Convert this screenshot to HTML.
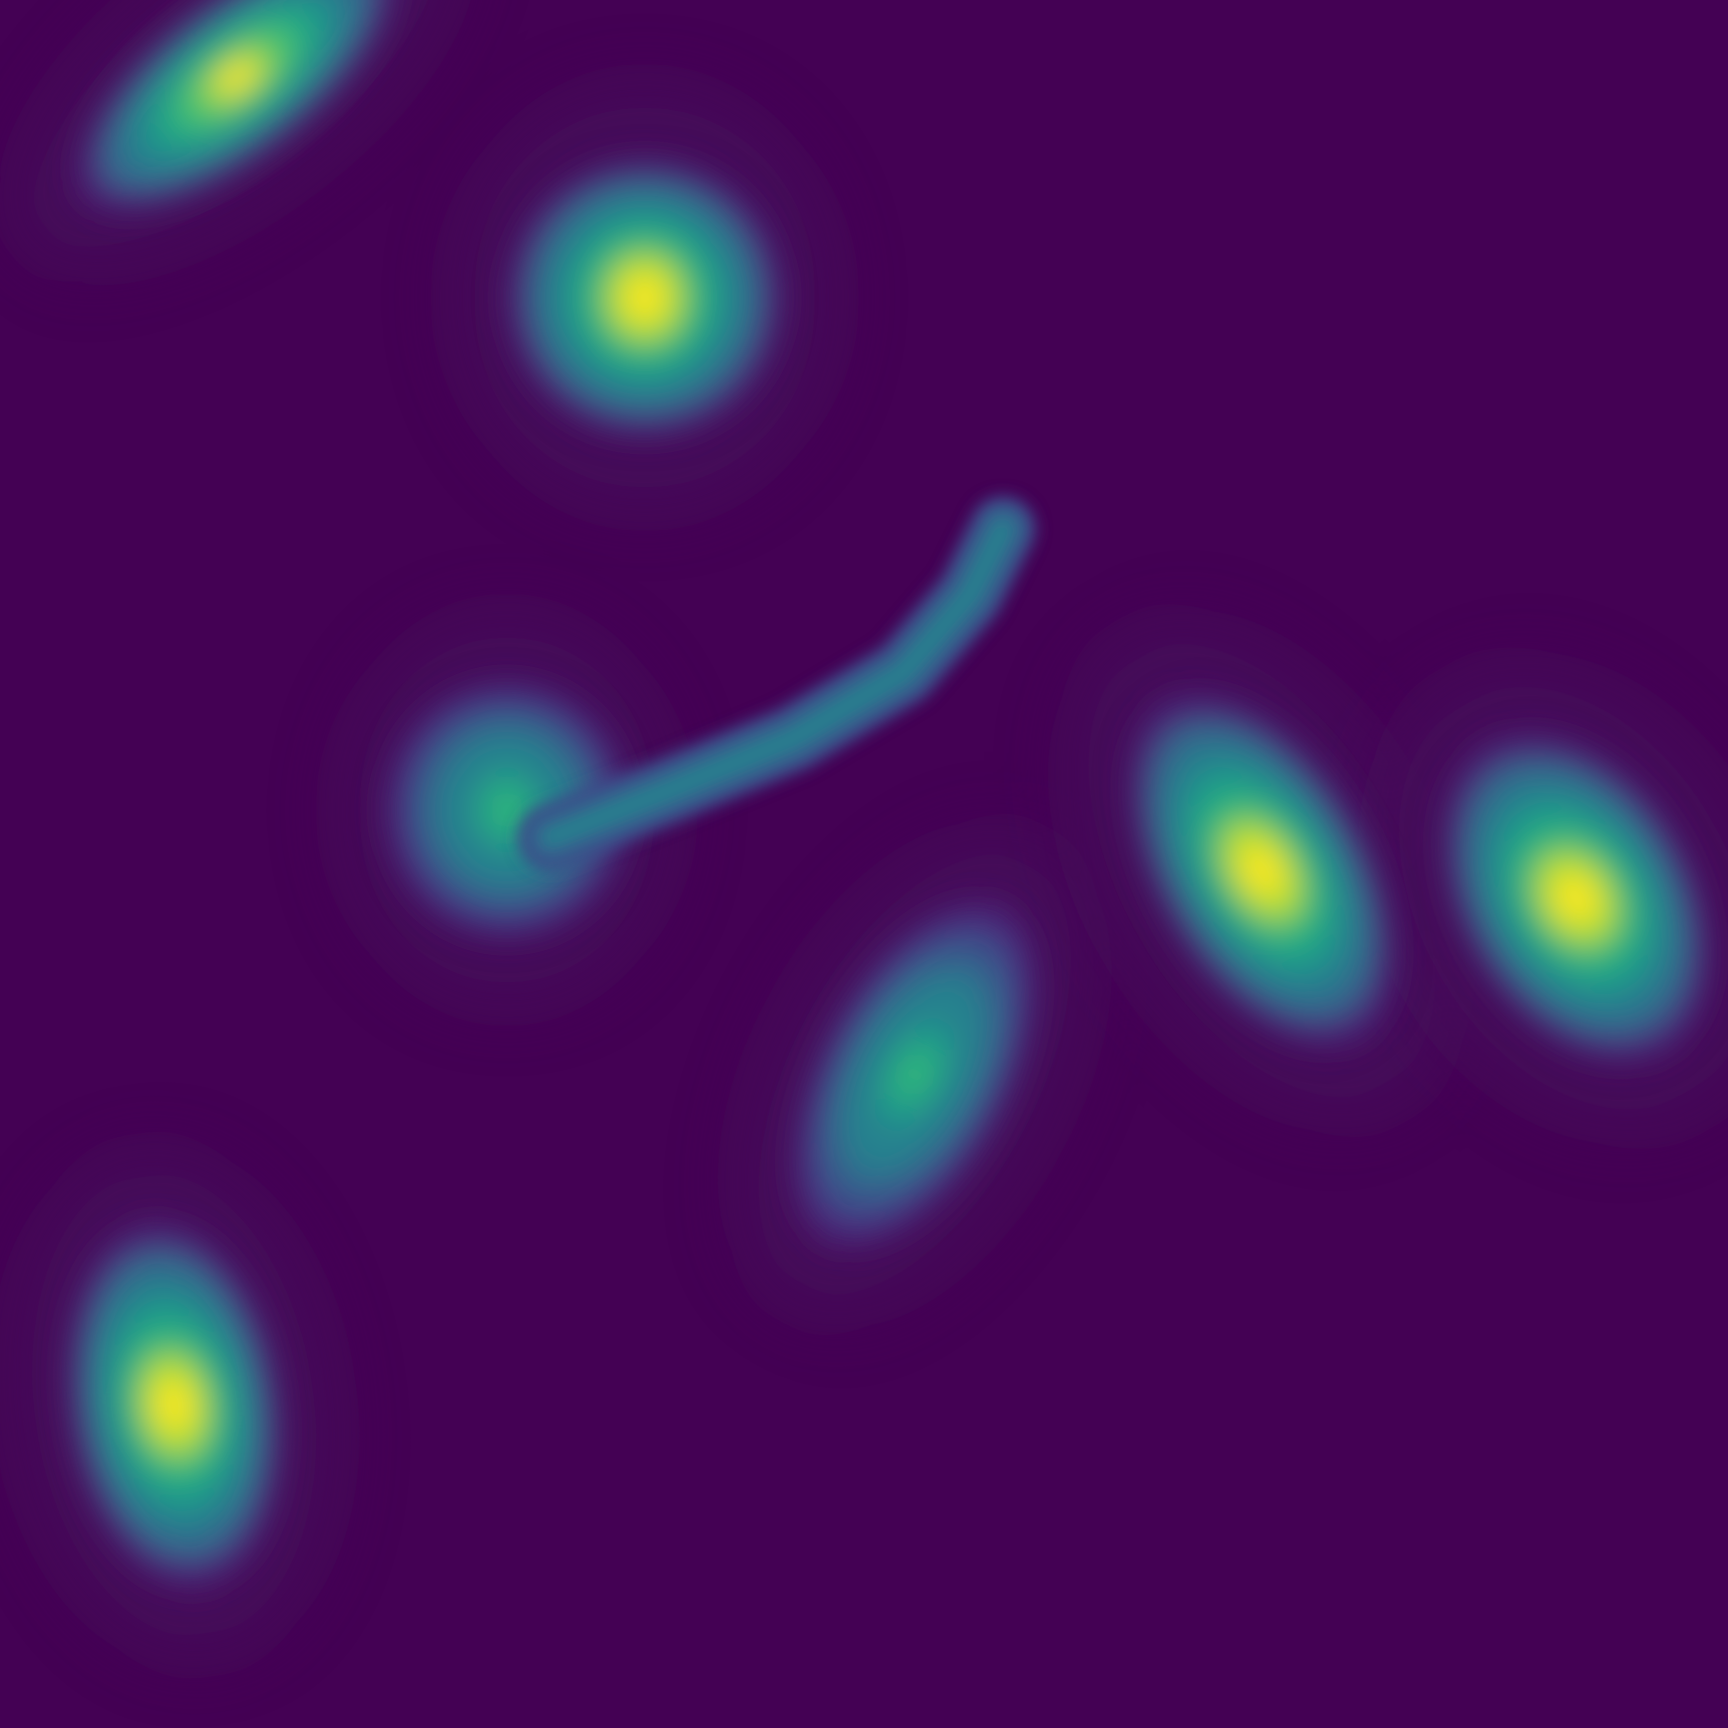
<!DOCTYPE html>
<html><head><meta charset="utf-8"><style>
html,body{margin:0;padding:0;background:#440154;}
svg{display:block}
</style></head><body>
<svg id="chart" width="1728" height="1728" viewBox="0 0 1568 1568" xmlns="http://www.w3.org/2000/svg">
<defs>
<filter id="blur" x="-50%" y="-50%" width="200%" height="200%"><feGaussianBlur stdDeviation="14"/></filter>
<filter id="blurS" x="-50%" y="-50%" width="200%" height="200%"><feGaussianBlur stdDeviation="7"/></filter>
<filter id="halo" x="-50%" y="-50%" width="200%" height="200%"><feGaussianBlur stdDeviation="30"/></filter>
</defs>
<rect width="1568" height="1568" fill="#440154"/>
<g id="halos" opacity="0.6"></g>
<g id="cells"></g>
</svg>
<script>
// cell data (viewBox coords)
const cellX = [215, 585, 460, 830, 1145, 1430, 158];
const cellY = [70, 270, 735, 975, 790, 815, 1275];
const cellRx = [175, 125, 110, 170, 175, 160, 165];
const cellRy = [70, 125, 115, 85, 95, 105, 95];
const cellAngle = [-38, 0, 0, -62, 60, 60, 82];
const cellPeak = [0.95, 1.0, 0.6, 0.6, 1.0, 1.0, 1.0];
const viridis = ['#440154','#482878','#3e4989','#31688e','#26828e','#1f9e89','#35b779','#6ece58','#b5de2b','#fde725'];
// tail of the middle cell
const tailX=[500,600,720,820,880,910];
const tailY=[760,720,670,610,540,480];
const NS='http://www.w3.org/2000/svg';
const halos=document.getElementById('halos');
const cells=document.getElementById('cells');
function col(v){return viridis[Math.max(0,Math.min(9,Math.round(v*9)))];}
for(let i=0;i<cellX.length;i++){
  const h=document.createElementNS(NS,'ellipse');
  
  
  h.setAttribute('cx',cellX[i]);h.setAttribute('cy',cellY[i]);
  h.setAttribute('rx',cellRx[i]*1.4);h.setAttribute('ry',cellRy[i]*1.55);
  h.setAttribute('transform',`rotate(${cellAngle[i]} ${cellX[i]} ${cellY[i]})`);
  h.setAttribute('fill','#47125f');h.setAttribute('filter','url(#halo)');
  halos.appendChild(h);
  const g=document.createElementNS(NS,'g');
  
  
  g.setAttribute('filter','url(#blur)');
  g.setAttribute('transform',`rotate(${cellAngle[i]} ${cellX[i]} ${cellY[i]})`);
  const steps=7;
  for(let s=0;s<steps;s++){
    const f=1-s/steps;
    const e=document.createElementNS(NS,'ellipse');
    
    
    e.setAttribute('cx',cellX[i]);e.setAttribute('cy',cellY[i]);
    e.setAttribute('rx',cellRx[i]*f);e.setAttribute('ry',cellRy[i]*Math.pow(f,0.9));
    e.setAttribute('fill',col(0.15+cellPeak[i]*0.85*(s/(steps-1))));
    g.appendChild(e);
  }
  cells.appendChild(g);
}
let d='M'+tailX[0]+' '+tailY[0];
for(let k=1;k<tailX.length;k++) d+=' L'+tailX[k]+' '+tailY[k];
const tg=document.createElementNS(NS,'g');


tg.setAttribute('filter','url(#blurS)');
[['#3e4989',60],['#31688e',38],['#26828e',14]].forEach(([c,w])=>{
  const p=document.createElementNS(NS,'path');
  
  
  p.setAttribute('d',d);p.setAttribute('fill','none');
  p.setAttribute('stroke',c);p.setAttribute('stroke-width',w);
  p.setAttribute('stroke-linecap','round');p.setAttribute('stroke-linejoin','round');
  tg.appendChild(p);
});
cells.appendChild(tg);
</script>
</body></html>
